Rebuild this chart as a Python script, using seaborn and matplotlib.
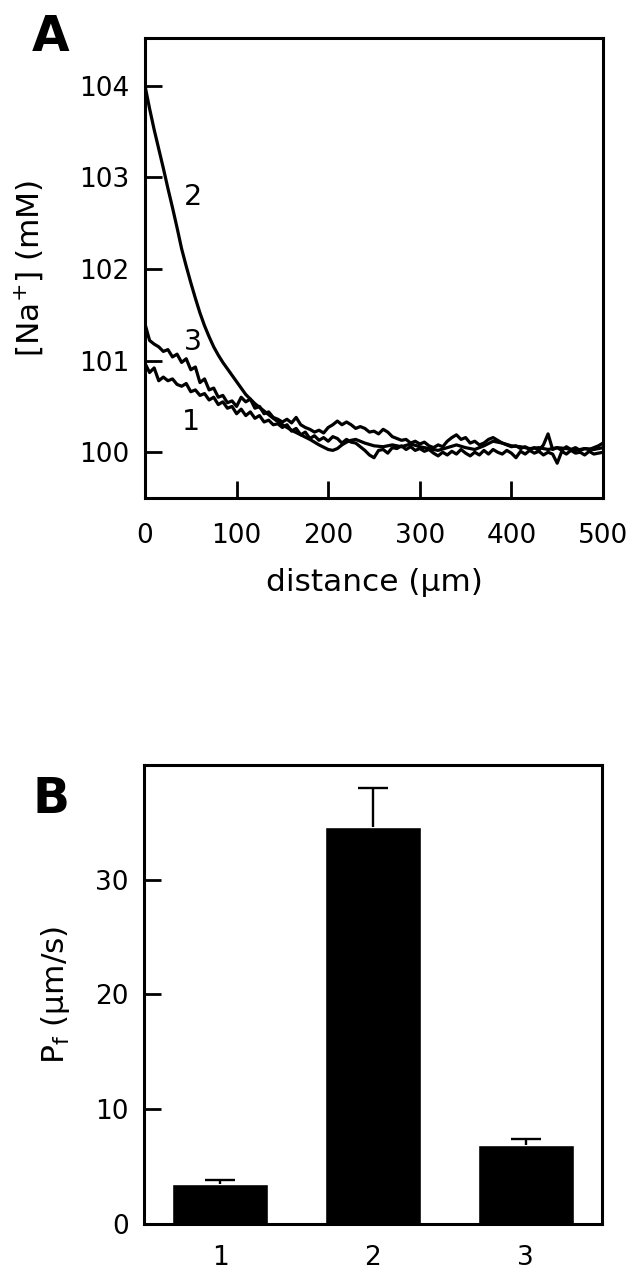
import numpy as np
import pandas as pd
import matplotlib
matplotlib.use("Agg")
import matplotlib.pyplot as plt
import seaborn as sns

# ---------------- data ----------------
# Panel A: [Na+] profiles vs distance (µm)
dist = np.arange(0, 505, 5)
na_1 = [100.97, 100.87, 100.92, 100.78, 100.82, 100.78, 100.80, 100.74, 100.72, 100.75,
        100.66, 100.68, 100.62, 100.64, 100.57, 100.60, 100.52, 100.55, 100.48, 100.50,
        100.42, 100.47, 100.40, 100.44, 100.37, 100.40, 100.33, 100.35, 100.30, 100.31,
        100.27, 100.30, 100.23, 100.26, 100.19, 100.22, 100.15, 100.18, 100.13, 100.16,
        100.12, 100.17, 100.15, 100.10, 100.14, 100.11, 100.10, 100.06, 100.02, 99.97,
        99.94, 100.02, 100.03, 99.99, 100.05, 100.04, 100.07, 100.03, 100.06, 100.02,
        100.04, 100.01, 100.03, 99.99, 99.96, 100.00, 99.97, 100.01, 99.98, 100.03,
        99.99, 99.96, 100.00, 99.97, 100.02, 99.98, 100.03, 100.00, 99.98, 100.02,
        99.99, 99.94, 100.01, 99.98, 100.02, 99.99, 100.01, 99.97, 100.00, 99.98,
        99.88, 100.01, 99.98, 100.02, 99.99, 100.00, 99.97, 100.01, 99.98, 99.99,
        100.00]
na_3 = [101.40, 101.22, 101.18, 101.15, 101.10, 101.12, 101.04, 101.07, 100.98, 101.02,
        100.90, 100.93, 100.76, 100.80, 100.68, 100.70, 100.60, 100.62, 100.54, 100.56,
        100.50, 100.60, 100.55, 100.58, 100.48, 100.50, 100.42, 100.44, 100.38, 100.36,
        100.33, 100.36, 100.32, 100.38, 100.30, 100.27, 100.25, 100.22, 100.24, 100.21,
        100.27, 100.30, 100.34, 100.30, 100.33, 100.30, 100.26, 100.28, 100.26, 100.22,
        100.23, 100.20, 100.25, 100.22, 100.17, 100.15, 100.13, 100.14, 100.10, 100.12,
        100.09, 100.11, 100.07, 100.05, 100.08, 100.06, 100.12, 100.16, 100.19, 100.14,
        100.16, 100.10, 100.12, 100.08, 100.10, 100.14, 100.16, 100.13, 100.10, 100.08,
        100.06, 100.07, 100.04, 100.06, 100.03, 100.05, 100.02, 100.08, 100.20, 100.03,
        100.05, 100.02, 100.06, 100.03, 100.05, 100.02, 100.04, 100.03, 100.05, 100.07,
        100.10]
dist_2 = [0, 5, 10, 15, 20, 25, 30, 35, 40, 45, 50, 55, 60, 65, 70, 75, 80, 85, 90, 95,
          100, 105, 110, 120, 130, 140, 150, 160, 170, 180, 190, 200, 205, 210, 215, 220,
          225, 230, 240, 250, 260, 270, 280, 290, 300, 310, 320, 330, 340, 350, 360, 370,
          380, 390, 400, 410, 420, 430, 440, 450, 460, 470, 480, 490, 500]
na_2 = [104.00, 103.75, 103.52, 103.31, 103.10, 102.88, 102.67, 102.45, 102.22, 102.03,
        101.85, 101.68, 101.52, 101.38, 101.26, 101.15, 101.06, 100.98, 100.91, 100.84,
        100.77, 100.70, 100.63,
        100.53, 100.45, 100.37, 100.30, 100.24, 100.19, 100.14, 100.08, 100.03,
        100.02, 100.04, 100.08, 100.11, 100.13, 100.14,
        100.10, 100.07, 100.06, 100.08, 100.06, 100.09, 100.06, 100.04, 100.02, 100.05,
        100.08, 100.05, 100.03, 100.07, 100.12, 100.10, 100.07, 100.06, 100.04, 100.05,
        100.03, 100.05, 100.04, 100.02, 100.04, 100.03, 100.05]
curve_labels = ["1", "2", "3"]
curve_label_x = [50.7, 52.9, 51.8]
curve_label_y = [100.33, 102.78, 101.20]

# Panel B: Pf bars
groups = ["1", "2", "3"]
pf_mean = [3.5, 34.6, 6.85]
pf_err = [0.35, 3.4, 0.6]

# ---------------- styling ----------------
sns.set_theme(style="ticks")
plt.rcParams["font.family"] = ["DejaVu Sans"]
plt.rcParams["mathtext.fontset"] = "dejavusans"
for key in ["text.color", "axes.labelcolor", "xtick.color", "ytick.color", "axes.edgecolor"]:
    plt.rcParams[key] = "black"

fig = plt.figure(figsize=(6.34, 12.8), dpi=100)
axA = fig.add_axes([0.2287, 0.6109, 0.7224, 0.3594])
axB = fig.add_axes([0.2271, 0.04375, 0.7224, 0.3586])

# ---------------- panel A ----------------
for xs, ys in [(dist, na_1), (dist, na_3), (dist_2, na_2)]:
    sns.lineplot(x=xs, y=ys, ax=axA, color="black", lw=2.3,
                 estimator=None, sort=False)

for lab, lx, ly in zip(curve_labels, curve_label_x, curve_label_y):
    axA.text(lx, ly, lab, fontsize=20.5, ha="center", va="center", color="black")

axA.set_xlim(0, 500)
axA.set_ylim(99.5, 104.52)
axA.set_xticks([0, 100, 200, 300, 400, 500])
axA.set_yticks([100, 101, 102, 103, 104])
axA.tick_params(direction="in", length=12, width=2, labelsize=19, color="black")
axA.tick_params(axis="x", pad=18)
axA.tick_params(axis="y", pad=11)
axA.set_xlabel("distance (µm)", fontsize=22.5)
axA.set_ylabel("[Na$^{+}$] (mM)", fontsize=22.5)
axA.xaxis.set_label_coords(0.5, -0.152)
axA.xaxis.label.set_va("top")
axA.yaxis.set_label_coords(-0.255, 0.5)
axA.yaxis.label.set_va("center")

# ---------------- panel B ----------------
dfB = pd.DataFrame({"group": groups, "pf": pf_mean})
sns.barplot(data=dfB, x="group", y="pf", color="black", saturation=1,
            width=0.63, errorbar=None, ax=axB)
eb = axB.errorbar(x=np.arange(len(groups)), y=pf_mean,
                  yerr=[np.zeros(len(groups)), pf_err], fmt="none",
                  ecolor="black", elinewidth=1.7, capsize=11, capthick=1.7, zorder=1)
# one-sided error bars: hide the lower caps
eb[1][0].set_visible(False)
axB.set_xlim(-0.5, 2.5)
axB.set_ylim(0, 40)
axB.set_yticks([0, 10, 20, 30])
axB.tick_params(axis="y", direction="in", length=12, width=2, labelsize=19, pad=11)
axB.tick_params(axis="x", length=0, labelsize=19, pad=15)
axB.set_xlabel("")
axB.set_ylabel("P$_{\\mathrm{f}}$ (µm/s)", fontsize=22.5)
axB.yaxis.set_label_coords(-0.194, 0.5)
axB.yaxis.label.set_va("center")

for ax in (axA, axB):
    for s in ax.spines.values():
        s.set_visible(True)
        s.set_linewidth(2.2)
        s.set_color("black")
    ax.set_facecolor("white")

fig.text(0.0505, 0.9898, "A", fontsize=35, fontweight="bold", ha="left", va="top")
fig.text(0.0505, 0.3945, "B", fontsize=35, fontweight="bold", ha="left", va="top")

fig.savefig("out.png", dpi=100, facecolor="white")
